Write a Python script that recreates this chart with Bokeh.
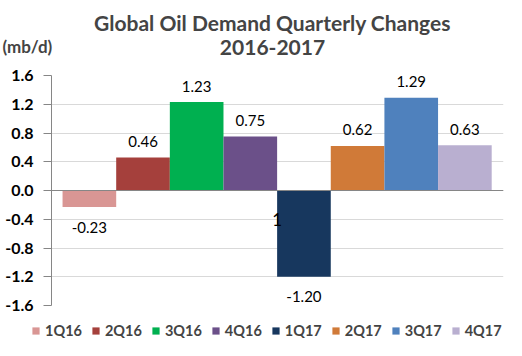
from bokeh.plotting import figure
from bokeh.layouts import column
from bokeh.models import ColumnDataSource, FixedTicker, NumeralTickFormatter, Span, Label, Legend, LegendItem, Range1d
from bokeh.core.properties import value
from bokeh.embed import file_html
from bokeh.resources import INLINE

quarters = ["1Q16", "2Q16", "3Q16", "4Q16", "1Q17", "2Q17", "3Q17", "4Q17"]
changes = [-0.23, 0.46, 1.23, 0.75, -1.20, 0.62, 1.29, 0.63]
colors = ["#D99694", "#A5403C", "#00B050", "#6B5089", "#17375E", "#D07A38", "#4F81BD", "#B9AFD0"]
yticks = [-1.6, -1.2, -0.8, -0.4, 0.0, 0.4, 0.8, 1.2, 1.6]
title_lines = ["Global Oil Demand Quarterly Changes", "2016-2017"]
unit_label = "(mb/d)"
stray_label = "1"

FONT = "Lato"
W = 522


def no_align(fig):
    try:
        fig.frame_align = False
    except Exception:
        pass


# ---------- header (title + unit) ----------
TOP_H = 66
top = figure(width=W, height=TOP_H, output_backend="svg", toolbar_location=None,
             x_range=Range1d(0, W), y_range=Range1d(TOP_H, 0),
             min_border=0, outline_line_color=None)
no_align(top)
top.axis.visible = False
top.grid.visible = False
top.title.visible = False
top.add_layout(Label(x=272, y=22, text=title_lines[0], text_align="center", text_baseline="middle",
                     text_font=FONT, text_font_style="bold", text_font_size="21px"))
top.add_layout(Label(x=272, y=47, text=title_lines[1], text_align="center", text_baseline="middle",
                     text_font=FONT, text_font_style="bold", text_font_size="21px"))
top.add_layout(Label(x=2, y=46, text=unit_label, text_align="left", text_baseline="middle",
                     text_font=FONT, text_font_style="bold", text_font_size="17px"))

# ---------- main chart ----------
xs = list(range(len(quarters)))
src = ColumnDataSource(dict(x=xs, top=changes, q=quarters, c=colors))
pos = [i for i, v in enumerate(changes) if v >= 0]
neg = [i for i, v in enumerate(changes) if v < 0]
src_pos = ColumnDataSource(dict(x=[xs[i] for i in pos], y=[changes[i] for i in pos],
                                lab=["%.2f" % changes[i] for i in pos]))
src_neg = ColumnDataSource(dict(x=[xs[i] for i in neg], y=[changes[i] for i in neg],
                                lab=["%.2f" % changes[i] for i in neg]))

MAIN_H = 248
p = figure(width=W, height=MAIN_H, output_backend="svg", toolbar_location=None,
           x_range=Range1d(-0.706, 7.72), y_range=Range1d(-1.6, 1.6),
           min_border_left=51, min_border_right=19, min_border_top=9, min_border_bottom=9)
no_align(p)
p.title.visible = False
p.outline_line_color = None

p.vbar(x="x", top="top", bottom=0, width=1.0, fill_color="c", line_color=None, source=src)

p.xaxis.visible = False
p.xgrid.visible = False
p.ygrid.grid_line_color = "#D9D9D9"
p.ygrid.grid_line_width = 1
p.yaxis.ticker = FixedTicker(ticks=yticks)
p.yaxis.formatter = NumeralTickFormatter(format="0.0")
p.yaxis.major_label_text_font = FONT
p.yaxis.major_label_text_font_style = "bold"
p.yaxis.major_label_text_font_size = "16px"
p.yaxis.major_label_text_color = "black"
p.yaxis.axis_line_color = "#868686"
p.yaxis.major_tick_line_color = "#868686"
p.yaxis.major_tick_in = 0
p.yaxis.major_tick_out = 8
p.yaxis.minor_tick_line_color = None
p.yaxis.major_label_standoff = 10

p.add_layout(Span(location=0, dimension="width", line_color="#868686", line_width=1))

p.text(x="x", y="y", text="lab", source=src_pos, text_align="center", text_baseline="middle",
       y_offset=-16, text_font=value(FONT), text_font_size="15px", text_color="black")
p.text(x="x", y="y", text="lab", source=src_neg, text_align="center", text_baseline="middle",
       y_offset=20, text_font=value(FONT), text_font_size="15px", text_color="black")

p.add_layout(Label(x=3.5, y=-0.40, text=stray_label, text_align="center", text_baseline="middle",
                   text_font=FONT, text_font_size="17px", text_color="black"))

# ---------- legend strip ----------
LEG_H = 356 - TOP_H - MAIN_H
lg = figure(width=W, height=LEG_H, output_backend="svg", toolbar_location=None,
            x_range=Range1d(100, 101), y_range=Range1d(100, 101),
            min_border=0, outline_line_color=None)
no_align(lg)
lg.axis.visible = False
lg.grid.visible = False
lg.title.visible = False
lr = lg.vbar(x="x", top="top", bottom=0, width=1.0, fill_color="c", line_color=None, source=src)
items = [LegendItem(label=q, renderers=[lr], index=i) for i, q in enumerate(quarters)]
leg = Legend(items=items, orientation="horizontal", location=(31, 17),
             glyph_width=9, glyph_height=9, label_standoff=5, spacing=9,
             label_text_font=FONT, label_text_font_style="bold", label_text_font_size="14.5px",
             border_line_color=None, background_fill_alpha=0, padding=2, margin=0)
lg.add_layout(leg)

layout = column(top, p, lg, spacing=0)
open("out.html", "w").write(file_html(layout, INLINE))
